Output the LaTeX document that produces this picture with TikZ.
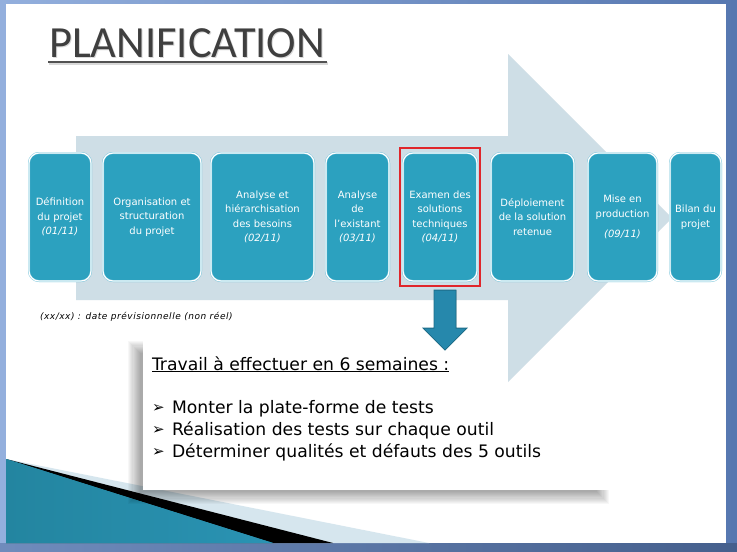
\documentclass[tikz,border=0pt]{standalone}
\usepackage{fontspec}
\setmainfont{DejaVu Sans}
\newfontfamily\titlefont{Carlito}
\usetikzlibrary{calc}

\definecolor{framelight}{HTML}{93AFDD}
\definecolor{framedark}{HTML}{5677B0}
\definecolor{ribbon}{HTML}{CEDEE6}
\definecolor{stepfill}{HTML}{2CA1BF}
\definecolor{stepedge}{HTML}{6CC0D8}
\definecolor{titlegray}{HTML}{3F3F3F}
\definecolor{hlred}{HTML}{E0262B}
\definecolor{arrowmid}{HTML}{3AAED0}
\definecolor{arrowside}{HTML}{2688AC}
\definecolor{arrowedge}{HTML}{1D6C88}
\definecolor{paleswoosh}{HTML}{D6E6EE}
\definecolor{tealdark}{HTML}{2385A0}
\definecolor{teallight}{HTML}{5DBBDA}
\definecolor{tealright}{HTML}{2A93B3}

\newcommand\itemmark{\makebox[20pt][l]{\raisebox{0.5pt}{\fontsize{15}{15}\selectfont ➢}}}

\begin{document}
\begin{tikzpicture}[x=1pt,y=-1pt,
  stepbox/.style={rectangle, rounded corners=10pt, fill=stepfill,
    draw=stepedge, double=white, double distance=1.2pt,
    minimum height=128pt, inner sep=1pt, text=white, align=center,
    font=\fontsize{10}{14.5}\selectfont},
  plain/.style={inner sep=0pt, outer sep=0pt},
  itemline/.style={plain, anchor=base west, font=\fontsize{17.2}{22}\selectfont}]

\useasboundingbox (0,0) rectangle (737,552);

% window frame and slide
\fill[left color=framelight, right color=framedark] (0,0) rectangle (737,552);
\fill[left color=framedark!85, right color=framedark!80!black] (0,543) rectangle (737,552);
\fill[white] (6,3.5) rectangle (726,543);

% corner swooshes fanning out from one point on the left edge
\coordinate (apex) at (6,459);
\fill[paleswoosh] (apex) -- (429,543) -- (6,543) -- cycle;
\fill[black] (apex) -- (333,543) -- (6,543) -- cycle;
\fill[tealright] (apex) -- (273,543) -- (6,543) -- cycle;
\shade[left color=tealdark, middle color=teallight, right color=tealright]
  (apex) -- (273,543) -- (6,543) -- cycle;

% soft shadow and panel for the task list
\foreach \i in {0,...,11}
  \fill[black, opacity=0.032] (128+\i*1.1, 341+\i*1.1) rectangle (609-\i*1.1, 504-\i*1.1);
\node[plain, fill=white, anchor=north west, minimum width=467pt, minimum height=152pt]
  (panel) at (143,338) {};

% large background arrow
\fill[ribbon] (76,136) -- (508,136) -- (508,54) -- (672,218) -- (508,382)
  -- (508,300) -- (76,300) -- cycle;

% title
\node[plain, anchor=base west, text=black!15,
  font=\titlefont\fontsize{44.5}{44.5}\selectfont] at (50,58) {PLANIFICATION};
\node[plain, anchor=base west, text=titlegray,
  font=\titlefont\fontsize{44.5}{44.5}\selectfont] (title) at (49,57) {PLANIFICATION};
\draw[line width=2.5pt, black!15] ($(title.base west)+(0,6.5)$) -- ($(title.base east)+(3,6.5)$);
\draw[line width=2pt, titlegray!90] ($(title.base west)+(-1,4.5)$) -- ($(title.base east)+(2,4.5)$);

% project steps
\node[stepbox, minimum width=62pt] (s1) at (60,217) {Définition\\du projet\\\textit{(01/11)}};
\node[stepbox, minimum width=98pt] (s2) at (152,217) {Organisation et\\structuration\\du projet};
\node[stepbox, minimum width=103pt] (s3) at (262.5,217) {Analyse et\\hiérarchisation\\des besoins\\\textit{(02/11)}};
\node[stepbox, minimum width=63pt] (s4) at (357.5,217) {Analyse\\de\\l’existant\\\textit{(03/11)}};
\node[stepbox, minimum width=74pt] (s5) at (440,217) {Examen des\\solutions\\techniques\\\textit{(04/11)}};
\node[stepbox, minimum width=83pt] (s6) at (532.5,217) {Déploiement\\de la solution\\retenue};
\node[stepbox, minimum width=69pt] (s7) at (622.5,217) {Mise en\\production\\[6pt]\textit{(09/11)}};
\node[stepbox, minimum width=51pt] (s8) at (695.5,217) {Bilan du\\projet};

% current step highlight
\node[draw=hlred, line width=2.2pt, minimum width=80.5pt, minimum height=138pt, inner sep=0pt]
  (hl) at (s5.center) {};

% pointer from the current step to its tasks
\coordinate (ptop) at ($(hl.south)+(5,3)$);
\filldraw[left color=arrowside, middle color=arrowmid, right color=arrowside,
  draw=arrowedge, line width=0.8pt, line join=miter]
  ($(ptop)+(-11,0)$) -- ($(ptop)+(11,0)$) -- ($(ptop)+(11,38)$) -- ($(ptop)+(22,38)$)
  -- ($(ptop)+(0,60)$) -- ($(ptop)+(-22,38)$) -- ($(ptop)+(-11,38)$) -- cycle;

% legend
\node[plain, anchor=base west,
  font=\fontsize{9}{10}\selectfont\itshape\addfontfeatures{LetterSpace=6}]
  (note) at (40,319) {(xx/xx) : date prévisionnelle (non réel)};

% task list
\node[itemline] (head) at (152,370) {\underline{Travail à effectuer en 6 semaines~:}};
\node[itemline] (i1) at (152,413) {\itemmark Monter la plate-forme de tests};
\node[itemline] (i2) at (152,435) {\itemmark Réalisation des tests sur chaque outil};
\node[itemline] (i3) at (152,457) {\itemmark Déterminer qualités et défauts des 5 outils};

\end{tikzpicture}
\end{document}
